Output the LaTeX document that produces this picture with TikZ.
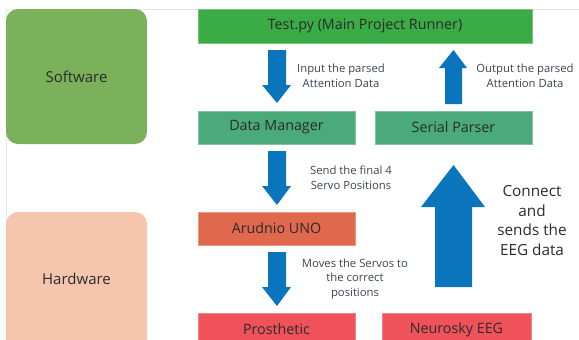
\documentclass[tikz,border=0pt]{standalone}
\usepackage{fontspec}
\setmainfont{Open Sans}
\definecolor{swc}{HTML}{7AB15A}
\definecolor{hwc}{HTML}{F5C5AE}
\definecolor{mainc}{HTML}{3BAB46}
\definecolor{midc}{HTML}{4AAA7A}
\definecolor{unoc}{HTML}{E0694D}
\definecolor{redc}{HTML}{F0525A}
\definecolor{arrc}{HTML}{0A74BD}
\definecolor{txtc}{HTML}{2B2B2B}
\definecolor{lblc}{HTML}{3A4550}
\definecolor{framec}{HTML}{E6E6E6}
\begin{document}
\begin{tikzpicture}[x=1pt,y=-1pt,
  lanetxt/.style={text=txtc, font=\fontsize{15}{17}\selectfont},
  blktxt/.style={text=txtc, font=\fontsize{14.3}{16}\selectfont},
  lbl/.style={text=lblc, align=center, font=\fontsize{11.3}{14.8}\selectfont},
  big/.style={text=txtc, align=center, font=\fontsize{15.3}{19.7}\selectfont}]
\useasboundingbox (0,0) rectangle (579,340);
\begin{scope}
\clip (0,0) rectangle (579,340);
% frame lines
\draw[framec, line width=0.8pt] (6,9) -- (579,9);
\draw[framec, line width=0.8pt] (6,9) -- (6,340);
% lanes
\fill[swc, rounded corners=12pt] (6,9) rectangle (147,144);
\node[lanetxt] (sw) at (76.5,77) {Software};
\fill[hwc, rounded corners=12pt] (6,212) rectangle (147,360);
\node[lanetxt] (hw) at (76.5,279) {Hardware};
% blocks
\filldraw[fill=mainc, draw=mainc!70!white, line width=0.6pt] (198,9) rectangle (532,43);
\node[blktxt] (main) at (365,26) {Test.py (Main Project Runner)};
\filldraw[fill=midc, draw=midc!70!white, line width=0.6pt] (198,111) rectangle (355,144);
\node[blktxt] (dm) at (276.5,127.5) {Data Manager};
\filldraw[fill=midc, draw=midc!70!white, line width=0.6pt] (375,111) rectangle (532,144);
\node[blktxt] (sp) at (453.5,127.5) {Serial Parser};
\filldraw[fill=unoc, draw=unoc!70!white, line width=0.6pt] (198,212) rectangle (355,245);
\node[blktxt] (uno) at (276.5,228.5) {Arudnio UNO};
\filldraw[fill=redc, draw=redc!70!white, line width=0.6pt] (198,313) rectangle (355,360);
\node[blktxt] (pro) at (276.5,329.5) {Prosthetic};
\filldraw[fill=redc, draw=redc!70!white, line width=0.6pt] (382,313) rectangle (531,360);
\node[blktxt] (eeg) at (456.5,329.5) {Neurosky EEG};
% arrows: down
\fill[arrc] (268,50) -- (286,50) -- (286,85) -- (291,85) -- (277,103) -- (262,85) -- (268,85) -- cycle;
\fill[arrc] (268,151) -- (286,151) -- (286,186) -- (291,186) -- (277,205) -- (262,186) -- (268,186) -- cycle;
\fill[arrc] (268,252) -- (286,252) -- (286,287) -- (291,287) -- (277,306) -- (262,287) -- (268,287) -- cycle;
% arrows: up
\fill[arrc] (445,104) -- (462,104) -- (462,68) -- (467,68) -- (453.5,50) -- (439,68) -- (445,68) -- cycle;
\fill[arrc] (435,287) -- (472,287) -- (472,207) -- (485,207) -- (453.5,165) -- (421,207) -- (435,207) -- cycle;
% labels
\node[lbl] (l1) at (341,76) {Input the parsed\\Attention Data};
\node[lbl] (l2) at (525,76) {Output the parsed\\Attention Data};
\node[lbl] (l3) at (351,177.5) {Send the final 4\\Servo Positions};
\node[lbl] (l4) at (355,279) {Moves the Servos to\\the correct\\positions};
\node[big] (l5) at (532,220.5) {Connect\\and\\sends the\\EEG data};
\end{scope}
\end{tikzpicture}
\end{document}
